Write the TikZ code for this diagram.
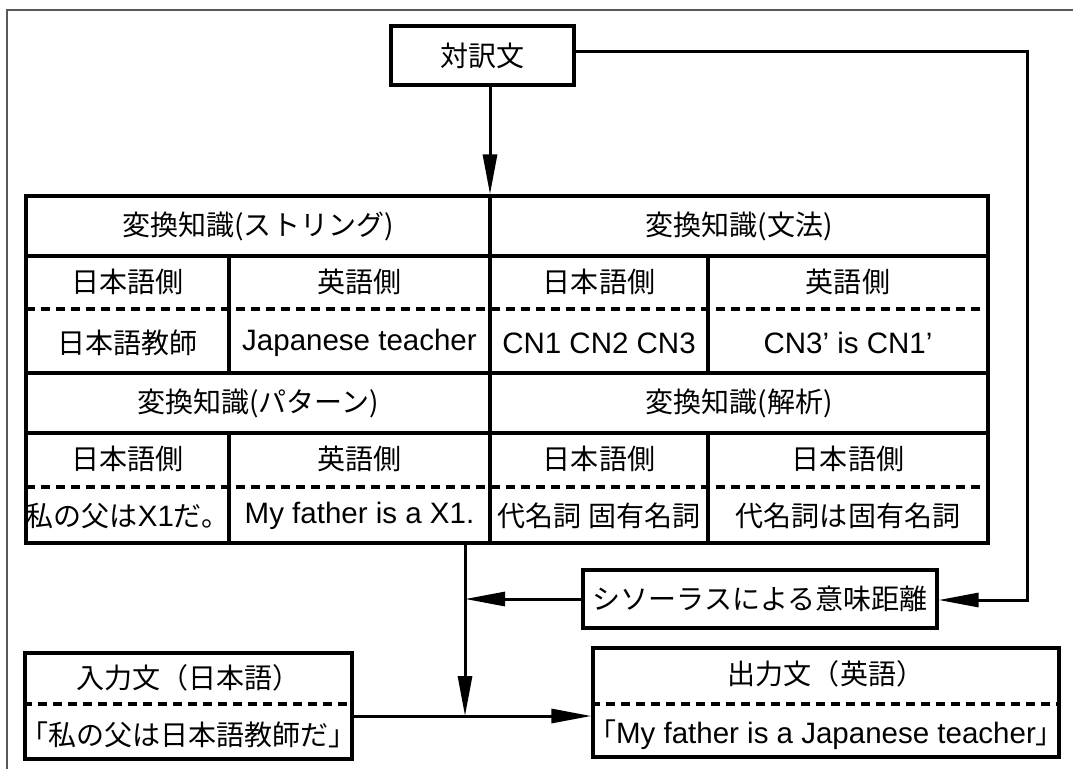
\documentclass[tikz,border=0pt]{standalone}
\usepackage{fontspec}
\setmainfont{Liberation Sans}
\newfontfamily\jp[Scale=0.95]{Noto Sans CJK JP}
\usetikzlibrary{arrows.meta}
\begin{document}
\begin{tikzpicture}[x=1pt,y=-1pt,
  every node/.style={inner sep=0pt, font=\fontsize{29.5}{33}\selectfont},
  box/.style={draw, line width=3.2pt, inner sep=0pt},
  ln/.style={line width=3.2pt},
  dsh/.style={line width=3.2pt, dash pattern=on 9pt off 6pt},
  arr/.style={line width=3pt, -{Triangle[length=40pt,width=14pt]}},
  frame/.style={draw=black!65, line width=1.2pt}
]
\useasboundingbox (0,0) rectangle (1073,769);
\fill[white] (0,0) rectangle (1073,769);
\draw[frame] (7,769) -- (7,10) -- (1073,10);

% source box
\node[box, minimum width=183pt, minimum height=59pt] (src) at (482.5,55.5) {\jp 対訳文};

% table
\node[box, minimum width=962pt, minimum height=347pt] (tbl) at (507,369.5) {};
\draw[ln] (26,256) -- (988,256);
\draw[ln] (26,373) -- (988,373);
\draw[ln] (26,433) -- (988,433);
\draw[ln] (490,196) -- (490,543);
\draw[ln] (229,256) -- (229,373);
\draw[ln] (708,256) -- (708,373);
\draw[ln] (229,433) -- (229,543);
\draw[ln] (708,433) -- (708,543);
\draw[dsh] (26,309) -- (988,309);
\draw[dsh] (26,487) -- (988,487);

\node (h1) at (258,226) {\jp 変換知識(ストリング)};
\node (h2) at (739,226) {\jp 変換知識(文法)};
\node (a1) at (127.5,282) {\jp 日本語側};
\node (a2) at (359.5,282) {\jp 英語側};
\node (a3) at (599,282) {\jp 日本語側};
\node (a4) at (848,282) {\jp 英語側};
\node (b1) at (127.5,343) {\jp 日本語教師};
\node (b2) at (359.5,343) {Japanese teacher};
\node (b3) at (599,343) {CN1 CN2 CN3};
\node (b4) at (848,343) {CN3’ is CN1’};
\node (h3) at (258,403) {\jp 変換知識(パターン)};
\node (h4) at (739,403) {\jp 変換知識(解析)};
\node (c1) at (127.5,459) {\jp 日本語側};
\node (c2) at (359.5,459) {\jp 英語側};
\node (c3) at (599,459) {\jp 日本語側};
\node (c4) at (848,459) {\jp 日本語側};
\node (d1) at (127.5,516) {{\jp 私の父は}X1{\jp だ。}};
\node (d2) at (359.5,516) {My father is a X1.};
\node (d3) at (599,516) {\jp 代名詞 固有名詞};
\node (d4) at (848,516) {\jp 代名詞は固有名詞};

% thesaurus box
\node[box, minimum width=354pt, minimum height=58pt] (thes) at (760,599) {\jp シソーラスによる意味距離};

% input box
\node[box, minimum width=327pt, minimum height=106pt] (in) at (188.5,706) {};
\draw[dsh] (in.west |- 0,704) -- (in.east |- 0,704);
\node (inT) at (188.5,678) {\jp 入力文（日本語）};
\node (inB) at (188.5,735) {\jp 「私の父は日本語教師だ」};

% output box
\node[box, minimum width=466pt, minimum height=109pt] (out) at (826,702.5) {};
\draw[dsh] (out.west |- 0,704) -- (out.east |- 0,704);
\node (outT) at (826,674) {\jp 出力文（英語）};
\node (outB) at (826,735) {{\jp 「}My father is a Japanese teacher{\jp 」}};

% connectors
\coordinate (D) at (490,0);
\coordinate (J) at (465,716);
\coordinate (R1) at (1027,51);
\coordinate (R2) at (1027,600);
\draw[arr] (src.south -| D) -- (tbl.north -| D);
\draw[arr] (R1 -| src.east) -- (R1) -- (R2) -- (R2 -| thes.east);
\draw[arr] (thes.west) -- (thes.west -| J);
\draw[arr] (tbl.south -| J) -- (J);
\draw[arr] (J -| in.east) -- (J -| out.west);
\end{tikzpicture}
\end{document}
